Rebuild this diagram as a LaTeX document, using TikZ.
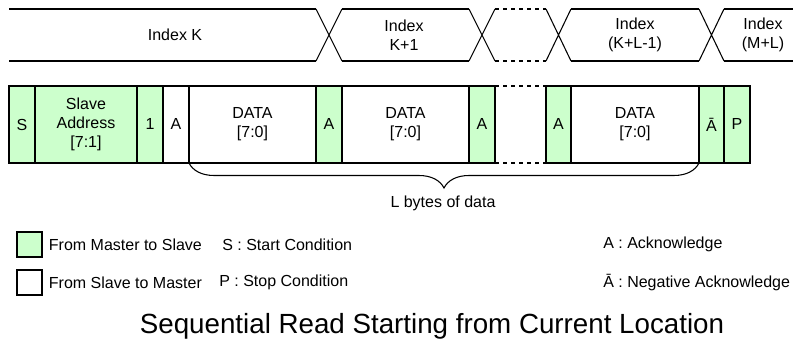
\documentclass[tikz,border=0pt]{standalone}
\usepackage{fontspec}
\setmainfont{Liberation Sans}
\usepackage{tikz}
\usetikzlibrary{positioning,decorations.pathreplacing}
\definecolor{mgreen}{RGB}{204,255,204}

\begin{document}
\begin{tikzpicture}[x=0.75pt, y=-0.75pt, font=\fontsize{12}{14.25}\selectfont,
	field/.style = {draw, line width=0.9pt, minimum height=57.75pt, inner sep=0pt, outer sep=0pt, align=center, anchor=west},
	m2s/.style = {field, fill=mgreen}, s2m/.style = {field, fill=white},
	wd/.style = {minimum width=#1*0.75pt},
	wave/.style = {line width=0.8pt},
	key/.style = {draw, line width=0.9pt, minimum size=18.75pt, inner sep=0pt, outer sep=0pt},
	txt/.style = {inner sep=0pt, anchor=west, align=center}, ]
			\useasboundingbox (0,0) rectangle (793,352);
			% frame of the read
			\node [m2s, wd=26] (s) at (9,124.5) {S};
			\node [m2s, wd=102, right=0pt of s] (addr) {Slave\\Address\\{[7:1]}};
			\node [m2s, wd=26, right=0pt of addr] (rw) {1};
			\node [s2m, wd=26, right=0pt of rw] (a0) {A};
			\node [s2m, wd=127, right=0pt of a0] (d1) {DATA\\{[7:0]}};
			\node [m2s, wd=26, right=0pt of d1] (a1) {A};
			\node [s2m, wd=127, right=0pt of a1] (d2) {DATA\\{[7:0]}};
			\node [m2s, wd=26, right=0pt of d2] (a2) {A};
			\node [field, draw=none, wd=51, right=0pt of a2] (gap) {};
			\node [m2s, wd=25, right=0pt of gap] (a3) {A};
			\node [s2m, wd=128, right=0pt of a3] (d3) {DATA\\{[7:0]}};
			\node [m2s, wd=25, right=0pt of d3] (nak) {Ā};
			\node [m2s, wd=26, right=0pt of nak] (p) {P};
			\draw [wave, dashed] (a2.north east) -- (a3.north west) (a2.south east) -- (a3.south west);
			\draw [wave, decorate, decoration={brace, mirror, amplitude=18.75pt}] (d1.south west) -- (d3.south east);
			\node (lbytes) at (443,203) {L bytes of data};

			% register index
			\foreach \a in {a1,a2,a3,nak}{
				\draw [wave] (\a.west |- 0,9) -- (\a.east |- 0,61) (\a.west |- 0,61) -- (\a.east |- 0,9);
			}
			\draw [wave] (9,9) -- (a1.west |- 0,9) (9,61) -- (a1.west |- 0,61);
			\draw [wave] (a1.east |- 0,9) -- (a2.west |- 0,9) (a1.east |- 0,61) -- (a2.west |- 0,61);
			\draw [wave, dashed] (a2.east |- 0,9) -- (a3.west |- 0,9) (a2.east |- 0,61) -- (a3.west |- 0,61);
			\draw [wave] (a3.east |- 0,9) -- (nak.west |- 0,9) (a3.east |- 0,61) -- (nak.west |- 0,61);
			\draw [wave] (nak.east |- 0,9) -- (793,9) (nak.east |- 0,61) -- (793,61);
			\node (ik) at (175,35) {Index K};
			\node [align=center] (ik1) at (404,35) {Index\\K+1};
			\node [align=center] (ikl) at (635,35) {Index\\(K+L-1)};
			\node [align=center] (iml) at (763,35) {Index\\(M+L)};

			% legend
			\node [key, fill=mgreen] (km) at (29.5,244.5) {};
			\node [key, fill=white] (ks) at (29.5,282.5) {};
			\node [txt, right=5pt of km] (lm) {From Master to Slave};
			\node [txt, right=5pt of ks] (ls) {From Slave to Master};
			\node [txt] (ls1) at (222,244.5) {S : Start Condition};
			\node [txt] (lp1) at (219,282.5) {P : Stop Condition};
			\node [txt] (la1) at (603,244.5) {A : Acknowledge};
			\node [txt] (lna) at (603,282.5) {Ā : Negative Acknowledge};

			\node [font=\fontsize{20.8}{25}\selectfont] (title) at (432,326) {Sequential Read Starting from Current Location};
		\end{tikzpicture}
\end{document}
